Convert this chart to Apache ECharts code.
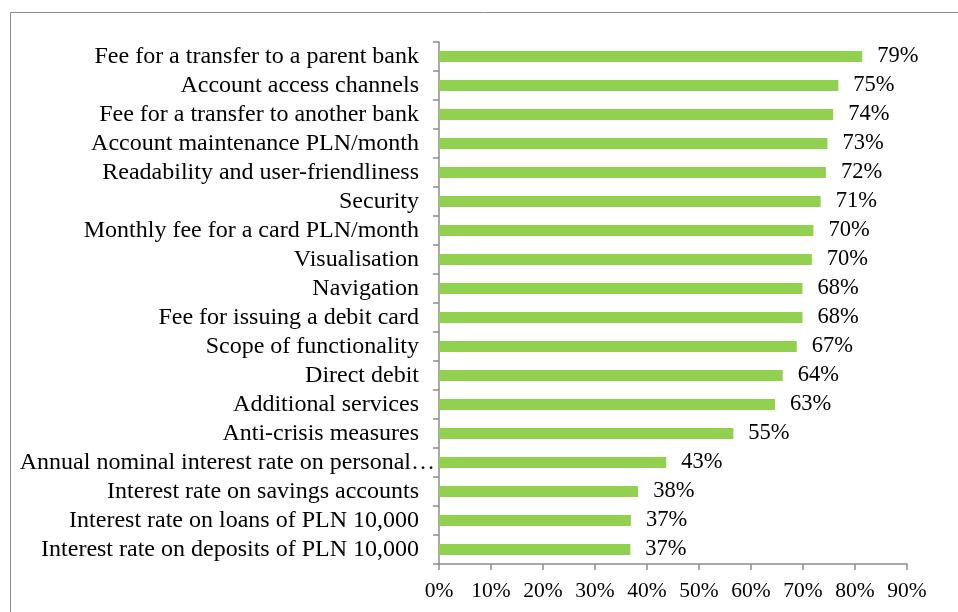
<!DOCTYPE html>
<html>
<head>
<meta charset="utf-8">
<script src="https://cdn.jsdelivr.net/npm/echarts@6/dist/echarts.min.js"></script>
<style>
  html, body { margin: 0; padding: 0; background: #ffffff; }
  #chart { width: 958px; height: 612px; }
</style>
</head>
<body>
<div id="chart"></div>
<script>
// Categories, top to bottom
const categories = [
  "Fee for a transfer to a parent bank",
  "Account access channels",
  "Fee for a transfer to another bank",
  "Account maintenance PLN/month",
  "Readability and user-friendliness",
  "Security",
  "Monthly fee for a card PLN/month",
  "Visualisation",
  "Navigation",
  "Fee for issuing a debit card",
  "Scope of functionality",
  "Direct debit",
  "Additional services",
  "Anti-crisis measures",
  "Annual nominal interest rate on personal\u2026",
  "Interest rate on savings accounts",
  "Interest rate on loans of PLN 10,000",
  "Interest rate on deposits of PLN 10,000"
];
// Bar lengths (percent)
const barValues = [81.4, 76.8, 75.8, 74.7, 74.4, 73.4, 72.0, 71.7, 69.9, 69.9, 68.8, 66.1, 64.6, 56.6, 43.7, 38.3, 36.9, 36.8];
// Data labels as printed in the picture
const valueLabels = ["79%", "75%", "74%", "73%", "72%", "71%", "70%", "70%", "68%", "68%", "67%", "64%", "63%", "55%", "43%", "38%", "37%", "37%"];
// Value axis ticks
const axisMin = 0, axisMax = 90, axisStep = 10;

const FONT = "'Liberation Serif', 'Times New Roman', serif";
const catData = categories.map(c => c.endsWith('\u2026')
  ? { value: c, textStyle: { padding: [0, -16, 0, 0] } }
  : c);
const chart = echarts.init(document.getElementById('chart'), null, { renderer: 'canvas' });
chart.setOption({
  backgroundColor: '#ffffff',
  animation: false,
  graphic: [{
    type: 'rect',
    shape: { x: 10.5, y: 12.5, width: 1000, height: 700 },
    style: { fill: 'none', stroke: '#8c8c8c', lineWidth: 1 },
    silent: true,
    z: -1
  }],
  grid: { left: 439, right: 51, top: 42, bottom: 48, containLabel: false },
  xAxis: {
    type: 'value',
    min: axisMin, max: axisMax, interval: axisStep,
    axisLine: { show: true, lineStyle: { color: '#8c8c8c', width: 1.5 } },
    axisTick: { show: true, length: 6, lineStyle: { color: '#8c8c8c', width: 1.5 } },
    splitLine: { show: false },
    axisLabel: { formatter: '{value}%', color: '#000', fontFamily: FONT, fontSize: 21.5, margin: 16 }
  },
  yAxis: {
    type: 'category',
    data: catData,
    inverse: true,
    axisLine: { show: true, lineStyle: { color: '#8c8c8c', width: 1.5 } },
    axisTick: { show: true, length: 6, interval: 0, lineStyle: { color: '#8c8c8c', width: 1.5 } },
    axisLabel: { interval: 0, color: '#000', fontFamily: FONT, fontSize: 24, margin: 20 }
  },
  series: [{
    type: 'bar',
    data: barValues,
    barWidth: 11,
    itemStyle: { color: '#92d050' },
    label: {
      show: true,
      position: 'right',
      distance: 15,
      color: '#000',
      fontFamily: FONT,
      fontSize: 22.5,
      formatter: p => valueLabels[p.dataIndex]
    }
  }]
});
</script>
</body>
</html>
